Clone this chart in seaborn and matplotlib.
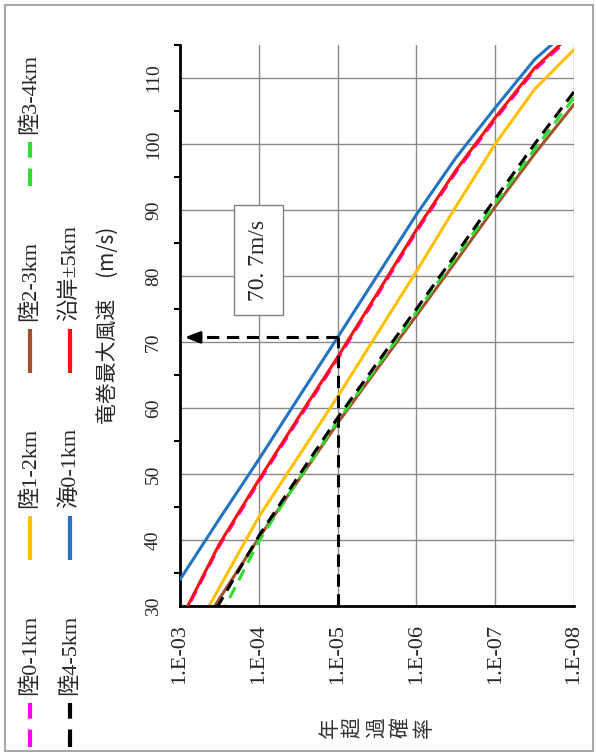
import numpy as np
import pandas as pd
import matplotlib
matplotlib.use("Agg")
import matplotlib.pyplot as plt
import seaborn as sns
from matplotlib.ticker import FixedLocator, MultipleLocator, NullLocator
from matplotlib.patches import Rectangle

sns.set_style('white')
plt.rcParams['font.family'] = ['Liberation Serif', 'Noto Sans CJK JP']

# annual exceedance probability (log10) shared by all curves
log_prob = [-3.0, -3.5, -4.0, -4.5, -5.0, -5.5, -6.0, -6.5, -7.0, -7.5, -8.0]

# tornado max wind speed (m/s) per zone
speed_land01 = [27.5, 39.1, 48.8, 58.2, 67.4, 77.0, 86.7, 95.7, 103.7, 111.2, 116.7]
speed_land12 = [22.0, 32.8, 43.5, 52.6, 61.7, 71.2, 80.7, 90.5, 100.0, 108.3, 114.3]
speed_land23 = [22.0, 31.1, 40.3, 49.0, 57.7, 65.9, 74.0, 82.2, 90.5, 98.5, 106.0]
speed_land34 = [18.0, 28.2, 39.8, 49.1, 58.0, 66.3, 74.5, 82.8, 91.0, 99.2, 107.0]
speed_land45 = [21.0, 30.4, 40.6, 49.6, 58.5, 66.8, 75.0, 83.3, 91.7, 100.0, 107.9]
speed_sea01 = [34.0, 43.2, 52.2, 61.5, 70.7, 80.0, 89.3, 97.9, 105.5, 112.8, 118.0]
speed_coast = [27.7, 39.4, 49.1, 58.5, 67.7, 77.3, 87.0, 96.0, 104.0, 111.5, 117.0]

labels = ["陸0-1km", "陸1-2km", "陸2-3km", "陸3-4km", "陸4-5km", "海0-1km", "沿岸±5km"]
speeds = [speed_land01, speed_land12, speed_land23, speed_land34,
          speed_land45, speed_sea01, speed_coast]
colors = ["#ff00ff", "#ffc000", "#a0522d", "#2ee02e", "#000000", "#2474c0", "#ff1010"]
dashes = [(4, 2.5), None, None, (4, 2.5), (4, 2.5), None, None]
zorders = [2.0, 2.2, 2.3, 2.4, 2.5, 2.6, 2.7]

# reading of the design value
design_prob = 1e-5
design_speed = 70.7

decades = [-3, -4, -5, -6, -7, -8]
speed_ticks = [30, 40, 50, 60, 70, 80, 90, 100, 110]

fig = plt.figure(figsize=(5.96, 7.54), dpi=100)

# legend / frame layer (pixel coordinates)
lax = fig.add_axes([0, 0, 1, 1])
lax.set_xlim(0, 596)
lax.set_ylim(754, 0)
lax.axis('off')
lax.add_patch(Rectangle((5, 5), 588, 746, fill=False, ec='#a8a8a8', lw=1.5))
for i, name in enumerate(labels):
    col, row = divmod(i, 4)
    x = 30 + 40 * col
    y0 = 747 - 187 * row
    ln, = lax.plot([x, x], [y0, y0 - 44], color=colors[i], lw=3,
                   solid_capstyle='butt', dash_capstyle='butt')
    if dashes[i]:
        ln.set_dashes((4.2, 2.6))
    lax.text(x, y0 - 52, name, rotation=90, rotation_mode='anchor',
             ha='left', va='center', fontsize=16)

ax = fig.add_axes([180 / 596, 148 / 754, 394 / 596, 561 / 754])

for i, name in enumerate(labels):
    df = pd.DataFrame({'prob': 10.0 ** np.array(log_prob), 'speed': speeds[i]})
    sns.lineplot(data=df, x='prob', y='speed', ax=ax, color=colors[i], lw=2.2,
                 zorder=zorders[i], dashes=False, legend=False)
    if dashes[i]:
        ax.lines[-1].set_dashes(dashes[i])

ax.set_xscale('log')
ax.set_xlim(1e-3, 1e-8)
ax.set_ylim(30, 115)

# design value guide lines
ax.plot([design_prob, design_prob], [30, design_speed], color='black', lw=2.2,
        dashes=(4, 2.5), zorder=3)
tip = 10 ** -3.06
ax.plot([design_prob, tip * 10 ** -0.15], [design_speed, design_speed],
        color='black', lw=2.2, dashes=(4, 2.5), zorder=3)
ax.annotate('', xy=(tip, design_speed), xytext=(tip * 10 ** -0.2, design_speed),
            arrowprops=dict(arrowstyle='-|>,head_length=0.9,head_width=0.35',
                            color='black', lw=2, shrinkA=0, shrinkB=0), zorder=3)
ax.text(1e-4, 82.4, "70. 7m/s", rotation=90, ha='center', va='center', fontsize=17,
        bbox=dict(boxstyle='square,pad=0.6', fc='white', ec='#808080', lw=1), zorder=4)

ax.xaxis.set_major_locator(FixedLocator([10.0 ** d for d in decades]))
ax.xaxis.set_minor_locator(NullLocator())
ax.set_xticklabels([f"1.E-{abs(d):02d}" for d in decades], rotation=90, fontsize=16)
ax.yaxis.set_major_locator(FixedLocator(speed_ticks))
ax.yaxis.set_minor_locator(MultipleLocator(5))
ax.set_yticklabels([str(v) for v in speed_ticks], rotation=90, va='center', fontsize=14)

ax.grid(True, which='major', color='#8a8a8a', lw=1)
ax.set_axisbelow(True)
for s in ['top', 'right']:
    ax.spines[s].set_visible(False)
for s in ['left', 'bottom']:
    ax.spines[s].set_color('black')
    ax.spines[s].set_linewidth(2)
ax.tick_params(axis='both', which='major', direction='out', length=5, width=1.5,
               color='black', pad=8)
ax.tick_params(axis='y', which='minor', direction='out', length=4, width=1.5, color='black', left=True)

ax.set_ylabel("竜巻最大風速　(m/s)", fontsize=15, family=['Noto Sans CJK JP'], rotation=90)
ax.yaxis.set_label_coords(-0.183, 0.5)
ax.yaxis.label.set_va('center')
ax.set_xlabel("年\n超\n過\n確\n率", fontsize=15, family=['Noto Sans CJK JP'],
              rotation=90, linespacing=1.1, color='#333333')
ax.xaxis.set_label_coords(0.5, -0.216)
ax.xaxis.label.set_va('center')

fig.savefig("out.png", dpi=100)
